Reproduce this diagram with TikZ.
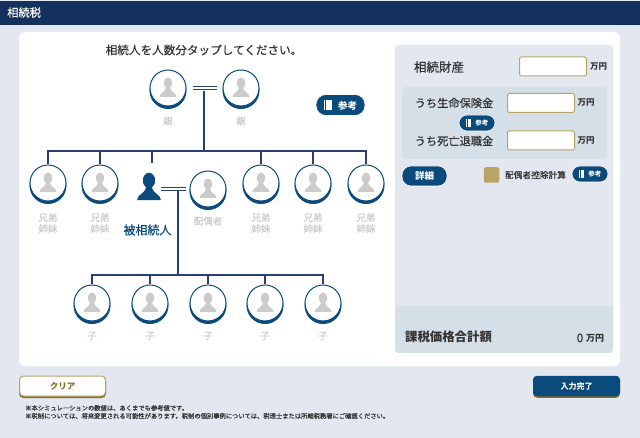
\documentclass[tikz,border=0pt]{standalone}
\usepackage{fontspec}
\setmainfont{Noto Sans CJK JP}
\newfontfamily\medfont[FakeBold=0.35]{Noto Sans CJK JP}
\definecolor{headnavy}{HTML}{14305C}
\definecolor{linenavy}{HTML}{2A3F72}
\definecolor{btnblue}{HTML}{0B4A7C}
\definecolor{pagebg}{HTML}{E3E7F0}
\definecolor{bandbg}{HTML}{D5DFE8}
\definecolor{goldbox}{HTML}{B9A468}
\definecolor{goldedge}{HTML}{8A6D1F}
\definecolor{personbg}{HTML}{CBCBCB}
\definecolor{inktext}{HTML}{333333}
\newcommand{\personicon}[2]{\fill[#1, shift={(path picture bounding box.center)}, x=#2pt, y=-#2pt]
    (0,-5) ellipse [x radius=4.4, y radius=5.5]
    (-8.5,9) .. controls (-8.5,5) and (-3,4.5) .. (-2,0) -- (2,0) .. controls (3,4.5) and (8.5,5) .. (8.5,9) -- cycle;}
\newcommand{\bookicon}[1]{\rlap{\textcolor{white}{\rule[-0.1em]{#1}{1.1em}}}\rlap{\kern1.2pt\textcolor{btnblue}{\rule[-0.1em]{0.5pt}{1.1em}}}\kern#1}
\begin{document}
\begin{tikzpicture}[x=1pt, y=-1pt]
    % Definizione stili
    \tikzset{seat/.style={circle, draw=btnblue, fill=white, line width=1pt, minimum size=36pt, inner sep=0pt,
        preaction={fill=btnblue, draw=btnblue, transform canvas={yshift=-2.5pt}},
        path picture={\personicon{personbg}{1}}}}
    \tikzstyle{subject}=[minimum width=28pt, minimum height=30pt, inner sep=0pt, path picture={\personicon{btnblue}{1.4}}]
    \tikzstyle{seatlabel}=[inner sep=0pt, align=center, font=\medfont\fontsize{9.5}{11}\selectfont, text=personbg]
    \tikzstyle{tree}=[line width=1.4pt, linenavy]
    \tikzstyle{couple}=[line width=1.2pt, linenavy, double=white, double distance=1.3pt]
    \tikzstyle{inputbox}=[draw=goldbox, fill=white, line width=1pt, rounded corners=1.5pt, minimum width=67pt, minimum height=19pt, inner sep=0pt]
    \tikzstyle{bluebtn}=[draw=white, fill=btnblue, text=white, line width=0.6pt, inner sep=0pt, font=\bfseries]
    \tikzstyle{caption}=[inner sep=0pt, text=inktext]
    \tikzstyle{unit}=[inner sep=0pt, text=inktext, font=\fontsize{8.5}{9}\selectfont\bfseries]
    \tikzstyle{note}=[inner sep=0pt, anchor=west, text=inktext, font=\medfont\fontsize{6.3}{6.3}\selectfont]

    \useasboundingbox (0,0) rectangle (640,438);

    % Fondo
    \fill[pagebg] (0,0) rectangle (640,438);
    \fill[headnavy] (0,1) rectangle (640,25);
    \fill[white, rounded corners=6pt] (19,32) rectangle (620,366);
    \fill[pagebg, rounded corners=4pt] (395,45) rectangle (613,353);
    \fill[bandbg, rounded corners=4pt] (402,87) rectangle (607,159);
    \fill[bandbg] (395,306) -- (613,306) [rounded corners=4pt] -- (613,353) -- (395,353) [sharp corners] -- cycle;

    \node[inner sep=0pt, text=white, anchor=west, font=\medfont\fontsize{11.3}{12}\selectfont] (title_bar) at (7,12.5) {相続税};
    \node[caption, font=\medfont\fontsize{11.6}{12}\selectfont] (title_tap) at (204,50) {相続人を人数分タップしてください。};

    % Genitori
    \node[seat] (oya_1) at (168,88) {};
    \node[seat] (oya_2) at (241,88) {};
    \node[seatlabel] (lab_oya_1) at (168,121) {親};
    \node[seatlabel] (lab_oya_2) at (241,121) {親};
    \draw[couple, yshift=-2pt, shorten >=6pt, shorten <=6pt] (oya_1.east) -- (oya_2.west);
    \coordinate (oya_mid) at (204,91);

    % Fratelli
    \coordinate (oya_bus) at (204,151);
    \node[seat] (sib_1) at (48,183) {};
    \node[seat] (sib_2) at (100,183) {};
    \node[seat] (sib_3) at (261,183) {};
    \node[seat] (sib_4) at (313,183) {};
    \node[seat] (sib_5) at (366,183) {};
    \node[seatlabel] (lab_sib_1) at (48,223) {兄弟\\姉妹};
    \node[seatlabel] (lab_sib_2) at (100,223) {兄弟\\姉妹};
    \node[seatlabel] (lab_sib_3) at (261,223) {兄弟\\姉妹};
    \node[seatlabel] (lab_sib_4) at (313,223) {兄弟\\姉妹};
    \node[seatlabel] (lab_sib_5) at (366,223) {兄弟\\姉妹};
    \draw[tree] (oya_mid) -- (oya_bus);
    \draw[tree] (sib_1.north) |- (oya_bus);
    \draw[tree] (sib_2.north) |- (oya_bus);
    \draw[tree] (sib_3.north) |- (oya_bus);
    \draw[tree] (sib_4.north) |- (oya_bus);
    \draw[tree] (sib_5.north) |- (oya_bus);

    % Defunto e coniuge
    \node[subject] (hisou) at (149,187.5) {};
    \node[seat] (haigu) at (208,189) {};
    \node[seatlabel] (lab_haigu) at (208,221) {配偶者};
    \node[inner sep=0pt, text=btnblue, font=\medfont\fontsize{12}{12}\selectfont] (lab_hisou) at (147.5,230) {被相続人};
    \coordinate (hisou_top) at (152,163);
    \draw[tree] (hisou_top) |- (oya_bus);
    \draw[couple, shorten >=4pt, shorten <=-2pt] (hisou.east |- haigu.west) -- (haigu.west);

    % Figli
    \coordinate (hisou_mid) at (178,190);
    \coordinate (ko_bus) at (178,275);
    \node[seat] (ko_1) at (92,303) {};
    \node[seat] (ko_2) at (150,303) {};
    \node[seat] (ko_3) at (208,303) {};
    \node[seat] (ko_4) at (265,303) {};
    \node[seat] (ko_5) at (323,303) {};
    \node[seatlabel] (lab_ko_1) at (92,336) {子};
    \node[seatlabel] (lab_ko_2) at (150,336) {子};
    \node[seatlabel] (lab_ko_3) at (208,336) {子};
    \node[seatlabel] (lab_ko_4) at (265,336) {子};
    \node[seatlabel] (lab_ko_5) at (323,336) {子};
    \draw[tree] (hisou_mid) -- (ko_bus);
    \draw[tree] (ko_1.north) |- (ko_bus);
    \draw[tree] (ko_2.north) |- (ko_bus);
    \draw[tree] (ko_3.north) |- (ko_bus);
    \draw[tree] (ko_4.north) |- (ko_bus);
    \draw[tree] (ko_5.north) |- (ko_bus);

    % Pulsanti sanko
    \node[bluebtn, rounded corners=10pt, minimum width=49pt, minimum height=21pt, font=\fontsize{9.5}{9.5}\selectfont\bfseries] (btn_sanko_1) at (340.5,105) {\bookicon{8pt}\hspace{6pt}参考};
    \node[bluebtn, rounded corners=8pt, minimum width=36pt, minimum height=16pt, font=\fontsize{6.5}{6.5}\selectfont\bfseries] (btn_sanko_2) at (477,123) {\bookicon{5.5pt}\hspace{4pt}参考};
    \node[bluebtn, rounded corners=8pt, minimum width=36pt, minimum height=16pt, font=\fontsize{6.5}{6.5}\selectfont\bfseries] (btn_sanko_3) at (590,174) {\bookicon{5.5pt}\hspace{4pt}参考};

    % Pannello destro
    \node[caption, font=\medfont\fontsize{12.5}{13}\selectfont] (lab_zaisan) at (439,67) {相続財産};
    \node[inputbox] (box_zaisan) at (553,66.5) {};
    \node[unit] (unit_zaisan) at (598.5,67) {万円};
    \node[caption, font=\medfont\fontsize{11.2}{12}\selectfont] (lab_hoken) at (454,103) {うち生命保険金};
    \node[inputbox] (box_hoken) at (541,103) {};
    \node[unit] (unit_hoken) at (586,103) {万円};
    \node[caption, font=\medfont\fontsize{11.2}{12}\selectfont] (lab_taishoku) at (454,141) {うち死亡退職金};
    \node[inputbox] (box_taishoku) at (541,140.5) {};
    \node[unit] (unit_taishoku) at (586,141) {万円};
    \node[bluebtn, rounded corners=9pt, minimum width=45pt, minimum height=20pt, font=\fontsize{9.5}{9.5}\selectfont\bfseries] (btn_shosai) at (424.5,176) {詳細};
    \node[fill=goldbox, rounded corners=2pt, minimum size=15.5pt, inner sep=0pt] (chk_haigu) at (491.5,175) {};
    \node[caption, font=\medfont\fontsize{8.7}{9}\selectfont] (lab_kojo) at (535.5,175) {配偶者控除計算};
    \node[caption, font=\fontsize{12.4}{13}\selectfont\bfseries] (lab_gokei) at (448.5,337) {課税価格合計額};
    \node[caption, font=\medfont\fontsize{12}{12}\selectfont] (val_gokei) at (580,338) {0};
    \node[unit, font=\fontsize{9}{9}\selectfont\bfseries] (unit_gokei) at (595,338) {万円};

    % Pulsanti in basso
    \node[draw=goldbox, fill=white, line width=1pt, rounded corners=4pt, minimum width=86pt, minimum height=20pt, inner sep=0pt, text=goldedge,
        preaction={fill=goldedge, draw=goldedge, transform canvas={yshift=-1.5pt}}, font=\fontsize{8.5}{8.5}\selectfont\bfseries] (btn_clear) at (62.5,386) {クリア};
    \node[fill=btnblue, rounded corners=4pt, minimum width=87pt, minimum height=20.5pt, inner sep=0pt, text=white,
        preaction={fill=goldedge, transform canvas={yshift=-1.5pt}}, font=\fontsize{8}{8}\selectfont\bfseries] (btn_kanryo) at (576.5,386) {入力完了};

    % Note
    \node[note] (note_1) at (25,408) {※本シミュレーションの数値は、あくまでも参考値です。};
    \node[note] (note_2) at (25,416) {※税制については、将来変更される可能性があります。税制の個別事例については、税理士または所轄税務署にご確認ください。};
\end{tikzpicture}
\end{document}
